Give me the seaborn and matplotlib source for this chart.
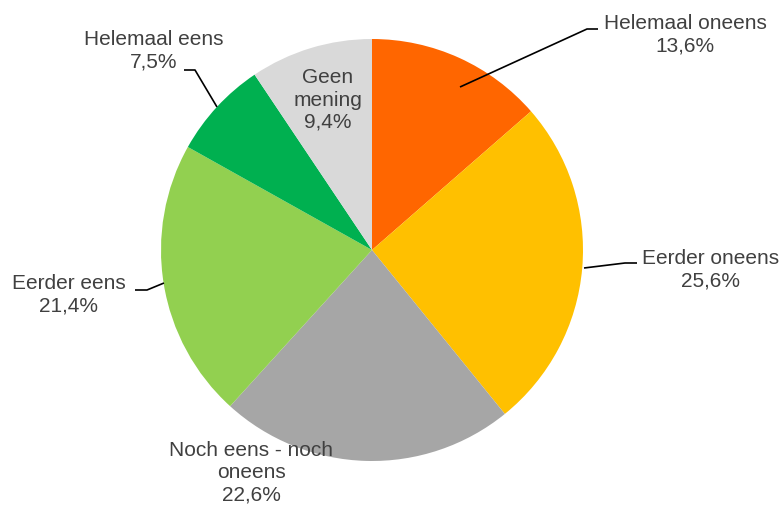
import matplotlib
matplotlib.use("Agg")
import matplotlib.pyplot as plt
import seaborn as sns

# data
categorieen = ["Helemaal oneens", "Eerder oneens", "Noch eens - noch\noneens",
               "Eerder eens", "Helemaal eens", "Geen\nmening"]
percentages = [13.6, 25.6, 22.6, 21.4, 7.5, 9.4]
kleuren = ["#FF6600", "#FFC000", "#A6A6A6", "#92D050", "#00B050", "#D9D9D9"]

# label block centres and leader lines, in pixels from top-left
label_pos = [(685, 35), (711, 270), (251, 473), (69, 295), (154, 51), (328, 100)]
leaders = [[(460, 87), (587, 29), (598, 29)],
           [(584, 268), (625, 263), (637, 263)],
           None,
           [(164, 283), (147, 290), (135, 290)],
           [(217, 107), (195, 70), (184, 70)],
           None]

W, H = 782, 507
sns.set_theme(style="white")
plt.rcParams["font.family"] = ["Liberation Sans", "DejaVu Sans"]

fig = plt.figure(figsize=(W / 100, H / 100), dpi=100)
ax = fig.add_axes([0, 0, 1, 1])

ax.pie(percentages, colors=kleuren, startangle=90, counterclock=False,
       center=(372, H - 250), radius=211, frame=True,
       wedgeprops=dict(linewidth=0))
ax.set_xlim(0, W)
ax.set_ylim(0, H)
ax.set_aspect("equal")
ax.axis("off")

for naam, pct, (x, y), lijn in zip(categorieen, percentages, label_pos, leaders):
    tekst = naam + "\n" + f"{pct:.1f}".replace(".", ",") + "%"
    ax.text(x, H - y, tekst, ha="center", va="center", multialignment="center",
            fontsize=15, color="#404040", linespacing=1.22)
    if lijn:
        ax.plot([p[0] for p in lijn], [H - p[1] for p in lijn],
                color="black", lw=1.2, solid_capstyle="butt")

fig.savefig("out.png", dpi=100)
